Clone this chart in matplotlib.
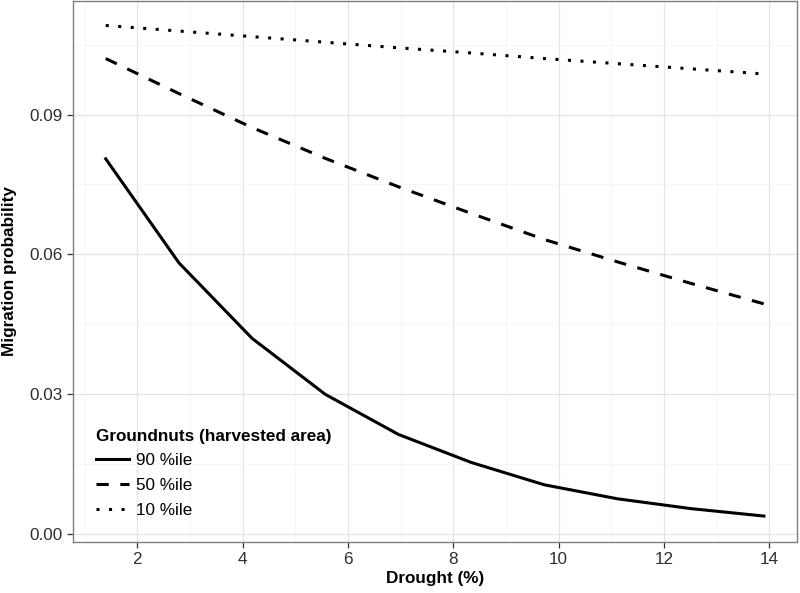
import numpy as np
from matplotlib import pyplot as plt
from matplotlib.ticker import MultipleLocator

plt.rcParams['font.family'] = ['Liberation Sans', 'DejaVu Sans']

# dane
drought = [1.4, 2.79, 4.18, 5.57, 6.96, 8.34, 9.73, 11.12, 12.51, 13.9]
p90 = [0.0805, 0.0582, 0.0420, 0.0300, 0.0214, 0.0154, 0.0106, 0.0076, 0.0055, 0.0039]
p50 = [0.1020, 0.0945, 0.0872, 0.0806, 0.0745, 0.0688, 0.0632, 0.0584, 0.0538, 0.0494]
p10 = [0.1091, 0.1079, 0.1067, 0.1055, 0.1043, 0.1032, 0.1020, 0.1009, 0.0998, 0.0987]
etykiety = ['90 %ile', '50 %ile', '10 %ile']

fig = plt.figure(figsize=(8, 5.93), dpi=100)
ax = fig.add_axes([0.091, 0.0865, 0.905, 0.9115])

ax.plot(drought, p90, color='black', lw=2.2, ls='-', label=etykiety[0])
ax.plot(drought, p50, color='black', lw=2.2, ls=(0, (4, 3.8)), label=etykiety[1])
ax.plot(drought, p10, color='black', lw=2.2, ls=(0, (1, 3.1)), dash_capstyle='butt', label=etykiety[2])

ax.set_xlim(0.775, 14.525)
ax.set_ylim(-0.0016, 0.1143)
ax.xaxis.set_major_locator(MultipleLocator(2))
ax.xaxis.set_minor_locator(MultipleLocator(1))
ax.yaxis.set_major_locator(MultipleLocator(0.03))
ax.yaxis.set_minor_locator(MultipleLocator(0.015))
ax.yaxis.set_major_formatter(plt.FuncFormatter(lambda v, p: '%.2f' % v))

ax.grid(which='major', color='#e5e5e5', lw=0.9)
ax.grid(which='minor', color='#f4f4f4', lw=0.6)
ax.set_axisbelow(True)
for s in ax.spines.values():
    s.set_color('#7f7f7f')
    s.set_linewidth(1.0)

ax.tick_params(which='major', length=4.5, width=0.9, color='#333333', labelsize=12.3,
               labelcolor='#2e2e2e', pad=3)
ax.tick_params(which='minor', length=0)

ax.set_xlabel('Drought (%)', fontsize=12.3, fontweight='bold', labelpad=3)
ax.set_ylabel('Migration probability', fontsize=12.3, fontweight='bold', labelpad=9)

leg = ax.legend(loc='upper left', bbox_to_anchor=(0.032, 0.209), frameon=False, fontsize=12.3,
                title='Groundnuts (harvested area)', title_fontproperties={'weight': 'bold', 'size': 12.3},
                handlelength=1.95, handletextpad=0.4, labelspacing=0.57,
                borderaxespad=0, borderpad=0, alignment='left')

plt.savefig('out.png', dpi=100)
